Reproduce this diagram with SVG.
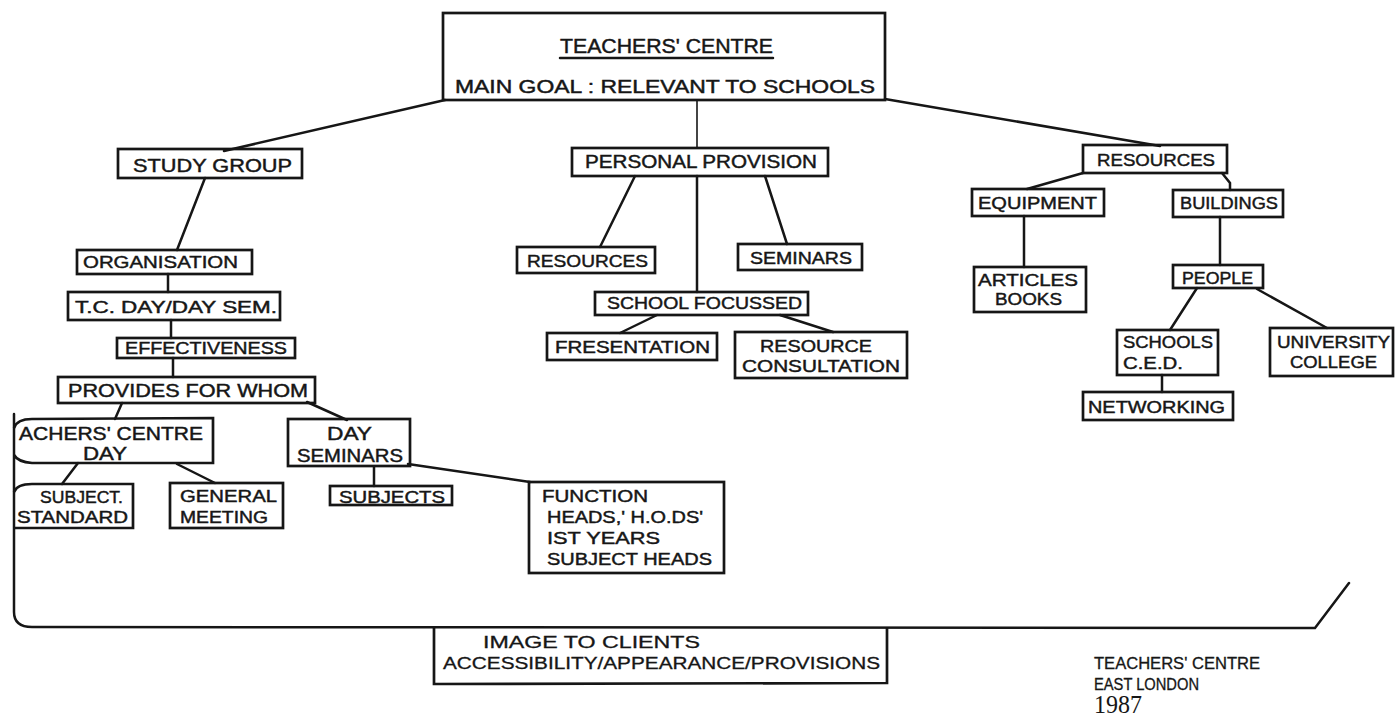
<svg xmlns="http://www.w3.org/2000/svg" width="1397" height="719" viewBox="0 0 1397 719">
  <style>
    .box { fill: none; stroke: #161616; stroke-width: 2.7; stroke-linejoin: miter; }
    .conn { fill: none; stroke: #161616; stroke-width: 2.5; stroke-linecap: round; }
    .thin { stroke-width: 1.6; }
    .t { font-family: "Liberation Sans", Arial, sans-serif; font-size: 18px; fill: #161616; stroke: #161616; stroke-width: 0.45; }
    .tt { font-size: 20px; }
    .ts { font-size: 17px; }
    .foot { font-family: "Liberation Sans", Arial, sans-serif; font-size: 16px; fill: #161616; stroke: #161616; stroke-width: 0.3; }
    .year { font-family: "Liberation Serif", "Times New Roman", serif; font-size: 25px; fill: #161616; }
  </style>
  <rect width="1397" height="719" fill="#ffffff"/>

  <!-- connectors -->
  <g id="connectors">
    <!-- from the main box -->
    <line class="conn" x1="445" y1="100" x2="224" y2="151"/>
    <line class="conn thin" x1="697" y1="100" x2="697" y2="148"/>
    <line class="conn" x1="885" y1="99" x2="1160" y2="146"/>
    <!-- study group branch -->
    <line class="conn" x1="205" y1="178" x2="177" y2="250"/>
    <line class="conn" x1="168" y1="274" x2="168" y2="292"/>
    <line class="conn" x1="171" y1="320" x2="171" y2="338"/>
    <line class="conn" x1="173" y1="358" x2="173" y2="377"/>
    <line class="conn" x1="122" y1="403" x2="115" y2="419"/>
    <line class="conn" x1="307" y1="402" x2="347" y2="420"/>
    <line class="conn" x1="78" y1="463" x2="62" y2="484"/>
    <line class="conn" x1="177" y1="464" x2="215" y2="483"/>
    <line class="conn" x1="374" y1="467" x2="374" y2="486"/>
    <line class="conn" x1="408" y1="464" x2="530" y2="482"/>
    <!-- personal provision branch -->
    <line class="conn" x1="635" y1="176" x2="600" y2="247"/>
    <line class="conn" x1="765" y1="176" x2="787" y2="244"/>
    <line class="conn" x1="697" y1="176" x2="697" y2="292"/>
    <line class="conn" x1="657" y1="315" x2="620" y2="333"/>
    <line class="conn" x1="780" y1="315" x2="833" y2="332"/>
    <!-- resources branch -->
    <line class="conn" x1="1083" y1="173" x2="1027" y2="189"/>
    <polyline class="conn" points="1222,173 1230,183 1230,190"/>
    <line class="conn" x1="1024" y1="216" x2="1024" y2="267"/>
    <line class="conn" x1="1220" y1="217" x2="1220" y2="265"/>
    <line class="conn" x1="1197" y1="288" x2="1170" y2="330"/>
    <line class="conn" x1="1257" y1="289" x2="1327" y2="328"/>
    <line class="conn" x1="1162" y1="375" x2="1162" y2="392"/>
    <!-- enclosing bracket -->
    <path class="conn" d="M 14 414 L 14 612 Q 14 627 32 627 L 1315 628 L 1349 583"/>
  </g>

  <!-- main goal -->
  <g id="teachers-centre">
    <rect class="box" x="443" y="13" width="442" height="87"/>
    <text class="t tt" x="560" y="53" textLength="213" lengthAdjust="spacingAndGlyphs">TEACHERS' CENTRE</text>
    <line class="conn" x1="560" y1="58" x2="773" y2="58" stroke-width="2"/>
    <text class="t" x="455" y="93" textLength="420" lengthAdjust="spacingAndGlyphs">MAIN GOAL : RELEVANT TO SCHOOLS</text>
  </g>

  <!-- study group branch -->
  <g id="study-group">
    <rect class="box" x="118" y="149" width="184" height="29"/>
    <text class="t" x="133" y="172" textLength="159" lengthAdjust="spacingAndGlyphs">STUDY GROUP</text>
  </g>
  <g id="organisation">
    <rect class="box" x="77" y="250" width="175" height="24"/>
    <text class="t ts" x="83" y="268" textLength="155" lengthAdjust="spacingAndGlyphs">ORGANISATION</text>
  </g>
  <g id="tc-day-sem">
    <rect class="box" x="68" y="292" width="212" height="28"/>
    <text class="t ts" x="75" y="313" textLength="202" lengthAdjust="spacingAndGlyphs">T.C. DAY/DAY SEM.</text>
  </g>
  <g id="effectiveness">
    <rect class="box" x="117" y="338" width="178" height="20"/>
    <text class="t ts" x="125" y="354" textLength="162" lengthAdjust="spacingAndGlyphs">EFFECTIVENESS</text>
  </g>
  <g id="provides-for-whom">
    <rect class="box" x="58" y="377" width="257" height="26"/>
    <text class="t" x="68" y="397" textLength="240" lengthAdjust="spacingAndGlyphs">PROVIDES FOR WHOM</text>
  </g>
  <g id="tc-day">
    <path class="box" d="M 14 428 Q 17 419 32 419 L 213 418 L 213 463 L 32 463 Q 18 462 14 455"/>
    <text class="t" x="19" y="440" textLength="184" lengthAdjust="spacingAndGlyphs">ACHERS' CENTRE</text>
    <text class="t" x="83" y="460" textLength="44" lengthAdjust="spacingAndGlyphs">DAY</text>
  </g>
  <g id="day-seminars">
    <rect class="box" x="288" y="419" width="122" height="47"/>
    <text class="t" x="327" y="440" textLength="45" lengthAdjust="spacingAndGlyphs">DAY</text>
    <text class="t" x="297" y="462" textLength="106" lengthAdjust="spacingAndGlyphs">SEMINARS</text>
  </g>
  <g id="subject-standard">
    <path class="box" d="M 14 492 Q 17 484 32 484 L 133 484 L 133 528 L 14 528"/>
    <text class="t ts" x="40" y="503" textLength="83" lengthAdjust="spacingAndGlyphs">SUBJECT.</text>
    <text class="t ts" x="17" y="523" textLength="111" lengthAdjust="spacingAndGlyphs">STANDARD</text>
  </g>
  <g id="general-meeting">
    <rect class="box" x="170" y="483" width="113" height="45"/>
    <text class="t ts" x="180" y="502" textLength="97" lengthAdjust="spacingAndGlyphs">GENERAL</text>
    <text class="t ts" x="180" y="523" textLength="88" lengthAdjust="spacingAndGlyphs">MEETING</text>
  </g>
  <g id="subjects">
    <rect class="box" x="330" y="486" width="122" height="19"/>
    <text class="t ts" x="339" y="503" textLength="106" lengthAdjust="spacingAndGlyphs">SUBJECTS</text>
  </g>
  <g id="function-heads">
    <rect class="box" x="529" y="482" width="195" height="91"/>
    <text class="t ts" x="542" y="502" textLength="106" lengthAdjust="spacingAndGlyphs">FUNCTION</text>
    <text class="t ts" x="547" y="523" textLength="156" lengthAdjust="spacingAndGlyphs">HEADS,' H.O.DS'</text>
    <text class="t ts" x="547" y="544" textLength="113" lengthAdjust="spacingAndGlyphs">IST  YEARS</text>
    <text class="t ts" x="547" y="565" textLength="165" lengthAdjust="spacingAndGlyphs">SUBJECT HEADS</text>
  </g>

  <!-- personal provision branch -->
  <g id="personal-provision">
    <rect class="box" x="572" y="148" width="256" height="28"/>
    <text class="t" x="585" y="168" textLength="232" lengthAdjust="spacingAndGlyphs">PERSONAL PROVISION</text>
  </g>
  <g id="pp-resources">
    <rect class="box" x="517" y="247" width="138" height="26"/>
    <text class="t ts" x="527" y="267" textLength="121" lengthAdjust="spacingAndGlyphs">RESOURCES</text>
  </g>
  <g id="pp-seminars">
    <rect class="box" x="738" y="244" width="124" height="26"/>
    <text class="t ts" x="750" y="264" textLength="102" lengthAdjust="spacingAndGlyphs">SEMINARS</text>
  </g>
  <g id="school-focussed">
    <rect class="box" x="595" y="292" width="213" height="23"/>
    <text class="t ts" x="607" y="309" textLength="195" lengthAdjust="spacingAndGlyphs">SCHOOL FOCUSSED</text>
  </g>
  <g id="presentation">
    <rect class="box" x="547" y="333" width="170" height="27"/>
    <text class="t ts" x="555" y="353" textLength="155" lengthAdjust="spacingAndGlyphs">FRESENTATION</text>
  </g>
  <g id="resource-consultation">
    <rect class="box" x="735" y="332" width="172" height="46"/>
    <text class="t ts" x="760" y="352" textLength="112" lengthAdjust="spacingAndGlyphs">RESOURCE</text>
    <text class="t ts" x="742" y="372" textLength="158" lengthAdjust="spacingAndGlyphs">CONSULTATION</text>
  </g>

  <!-- resources branch -->
  <g id="resources">
    <rect class="box" x="1083" y="145" width="144" height="28"/>
    <text class="t ts" x="1097" y="166" textLength="118" lengthAdjust="spacingAndGlyphs">RESOURCES</text>
  </g>
  <g id="equipment">
    <rect class="box" x="972" y="189" width="132" height="27"/>
    <text class="t ts" x="978" y="209" textLength="119" lengthAdjust="spacingAndGlyphs">EQUIPMENT</text>
  </g>
  <g id="buildings">
    <rect class="box" x="1173" y="190" width="110" height="27"/>
    <text class="t ts" x="1180" y="209" textLength="98" lengthAdjust="spacingAndGlyphs">BUILDINGS</text>
  </g>
  <g id="articles-books">
    <rect class="box" x="974" y="267" width="112" height="45"/>
    <text class="t ts" x="978" y="286" textLength="100" lengthAdjust="spacingAndGlyphs">ARTICLES</text>
    <text class="t ts" x="995" y="305" textLength="67" lengthAdjust="spacingAndGlyphs">BOOKS</text>
  </g>
  <g id="people">
    <rect class="box" x="1173" y="265" width="90" height="23"/>
    <text class="t ts" x="1182" y="284" textLength="71" lengthAdjust="spacingAndGlyphs">PEOPLE</text>
  </g>
  <g id="schools-ced">
    <rect class="box" x="1117" y="330" width="101" height="45"/>
    <text class="t ts" x="1123" y="348" textLength="90" lengthAdjust="spacingAndGlyphs">SCHOOLS</text>
    <text class="t ts" x="1123" y="369" textLength="60" lengthAdjust="spacingAndGlyphs">C.E.D.</text>
  </g>
  <g id="university-college">
    <rect class="box" x="1270" y="328" width="123" height="48"/>
    <text class="t ts" x="1277" y="348" textLength="113" lengthAdjust="spacingAndGlyphs">UNIVERSITY</text>
    <text class="t ts" x="1290" y="368" textLength="87" lengthAdjust="spacingAndGlyphs">COLLEGE</text>
  </g>
  <g id="networking">
    <rect class="box" x="1083" y="392" width="150" height="28"/>
    <text class="t ts" x="1088" y="413" textLength="137" lengthAdjust="spacingAndGlyphs">NETWORKING</text>
  </g>

  <!-- image to clients -->
  <g id="image-to-clients">
    <path class="box" d="M 434 628 L 434 684 L 887 683 L 887 628"/>
    <text class="foot" x="483" y="648" textLength="217" lengthAdjust="spacingAndGlyphs">IMAGE  TO  CLIENTS</text>
    <text class="foot" x="443" y="669" textLength="437" lengthAdjust="spacingAndGlyphs">ACCESSIBILITY/APPEARANCE/PROVISIONS</text>
  </g>

  <!-- caption -->
  <g id="caption">
    <text class="foot" x="1094" y="669" textLength="166" lengthAdjust="spacingAndGlyphs">TEACHERS' CENTRE</text>
    <text class="foot" x="1094" y="690" textLength="105" lengthAdjust="spacingAndGlyphs">EAST LONDON</text>
    <text class="year" x="1094" y="713" textLength="48" lengthAdjust="spacingAndGlyphs">1987</text>
  </g>
</svg>
